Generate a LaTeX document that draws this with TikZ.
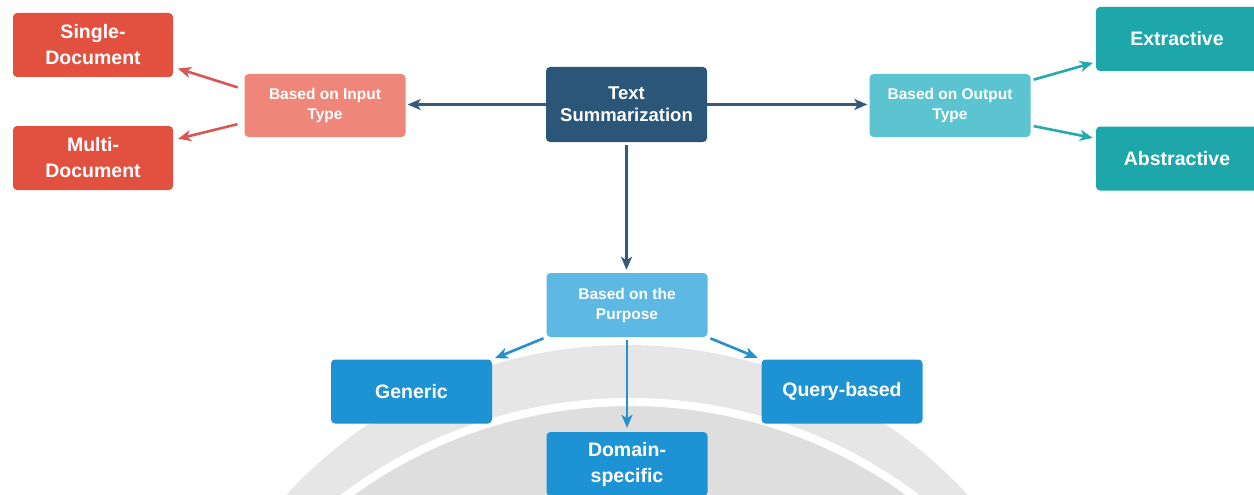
\documentclass[tikz,border=0pt]{standalone}
\usepackage{fontspec}
\setmainfont{Liberation Sans}
\usetikzlibrary{arrows.meta,calc}
\definecolor{redleaf}{HTML}{E2513F}
\definecolor{redmid}{HTML}{EE877A}
\definecolor{redarrow}{HTML}{DA5651}
\definecolor{navy}{HTML}{2B5678}
\definecolor{navyarrow}{HTML}{34597A}
\definecolor{tealmid}{HTML}{5CC3D0}
\definecolor{tealleaf}{HTML}{1DA7AB}
\definecolor{tealarrow}{HTML}{26A9AD}
\definecolor{bluemid}{HTML}{5DB8E3}
\definecolor{blueleaf}{HTML}{1E93D3}
\definecolor{bluearrow}{HTML}{2490CC}
\definecolor{bgouter}{HTML}{E6E6E6}
\definecolor{bginner}{HTML}{DEDEDE}
\tikzset{
  box/.style={rounded corners=4pt, minimum width=161pt, minimum height=64pt, inner sep=2pt, align=center, text=white},
  leaf/.style={box, font=\bfseries\fontsize{19.5}{26}\selectfont},
  midbox/.style={box, minimum height=63pt, font=\bfseries\fontsize{15.5}{20}\selectfont},
  rootbox/.style={box, minimum height=75pt, font=\bfseries\fontsize{18.5}{22}\selectfont},
  conn/.style={line width=2.6pt, -{Stealth[length=13pt,width=11pt,inset=3.5pt]}},
}
\begin{document}
\begin{tikzpicture}[x=1pt,y=-1pt]
\useasboundingbox (0,0) rectangle (1254,495);
% background watermark
\begin{scope}
  \clip (0,0) rectangle (1254,495);
  \fill[bgouter] (627,807) circle[radius=462pt];
  \fill[bginner] (630,878) circle[radius=472pt];
  \draw[white, line width=8pt] (630,878) circle[radius=476pt];
\end{scope}
% nodes
\node[rootbox, fill=navy] (ts) at (626.5,104.5) {Text\\Summarization};
\node[midbox, fill=redmid] (inp) at (325,105.5) {Based on Input\\Type};
\node[midbox, fill=tealmid] (out) at (950,105.5) {Based on Output\\Type};
\node[midbox, fill=bluemid, minimum height=64pt] (pur) at (627,305) {Based on the\\Purpose};
\node[leaf, fill=redleaf, minimum width=160pt] (sd) at (93,45) {Single-\\Document};
\node[leaf, fill=redleaf, minimum width=160pt] (md) at (93,158) {Multi-\\Document};
\node[leaf, fill=tealleaf, minimum width=162pt] (ext) at (1177,39) {Extractive};
\node[leaf, fill=tealleaf, minimum width=162pt] (abs) at (1177,158.5) {Abstractive};
\node[leaf, fill=blueleaf] (gen) at (411.5,391.5) {Generic};
\node[leaf, fill=blueleaf] (qry) at (842,391.5) {Query-based};
\node[leaf, fill=blueleaf] (dom) at (627,464) {Domain-\\specific};
% connectors
\draw[conn, navyarrow, shorten >=2pt] (ts.west) -- (ts.west -| inp.east);
\draw[conn, navyarrow, shorten >=2pt] (ts.east) -- (ts.east -| out.west);
\draw[conn, navyarrow, shorten <=3pt, shorten >=3pt] (ts.south) -- (ts.south |- pur.north);
\draw[conn, redarrow, shorten <=7pt, shorten >=5pt] ([yshift=16pt]inp.west) -- ([yshift=-22pt]sd.east);
\draw[conn, redarrow, shorten <=7pt, shorten >=5pt] ([yshift=-17pt]inp.west) -- ([yshift=18pt]md.east);
\draw[conn, tealarrow, shorten <=3pt, shorten >=3pt] ([yshift=25pt]out.east) -- ([yshift=-23pt]ext.west);
\draw[conn, tealarrow, shorten <=3pt, shorten >=3pt] ([yshift=-20pt]out.east) -- ([yshift=20pt]abs.west);
\draw[conn, bluearrow, shorten <=3pt, shorten >=3pt] (pur.south west) -- (gen.north east);
\draw[conn, bluearrow, shorten <=3pt, shorten >=4pt] (pur.south east) -- (qry.north west);
\draw[conn, bluearrow, shorten <=3pt, shorten >=4pt] (pur.south) -- (dom.north);
\end{tikzpicture}
\end{document}
